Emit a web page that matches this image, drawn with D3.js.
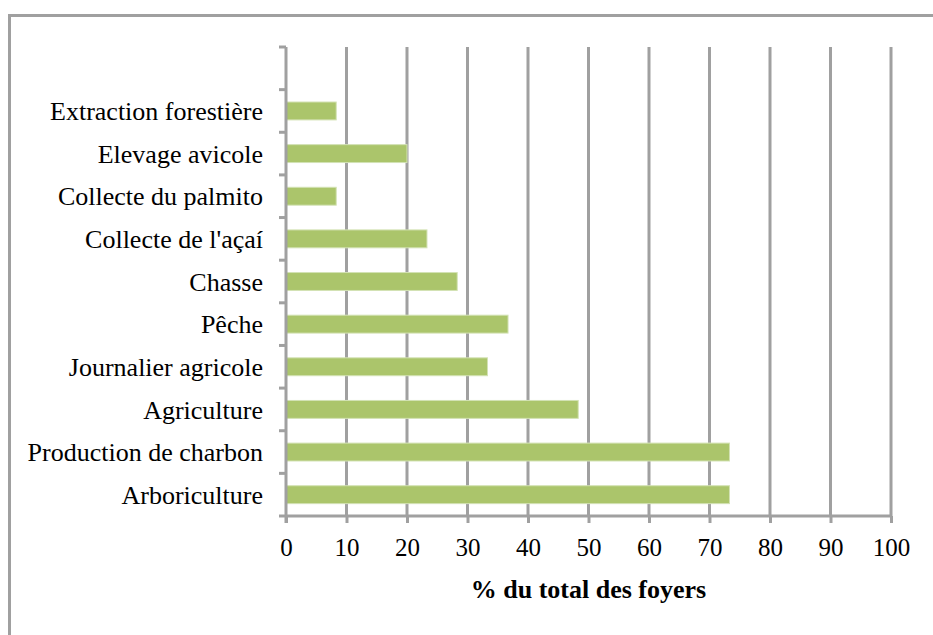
<!DOCTYPE html>
<html>
<head>
<meta charset="utf-8">
<script src="https://cdn.jsdelivr.net/npm/d3@7"></script>
<style>
  html, body { margin: 0; padding: 0; background: #fff; }
  svg { display: block; }
  svg text { font-family: "Liberation Serif", "DejaVu Serif", serif; fill: #000; }
</style>
</head>
<body>
<svg id="chart" width="933" height="635"></svg>
<script>
// categories top to bottom (first slot is empty in the original)
var categories = ['', 'Extraction forestière', 'Elevage avicole', 'Collecte du palmito',
  "Collecte de l'açaí", 'Chasse', 'Pêche', 'Journalier agricole', 'Agriculture',
  'Production de charbon', 'Arboriculture'];
var values = [null, 8.3, 20, 8.3, 23.3, 28.3, 36.7, 33.3, 48.3, 73.3, 73.3];
var xTicks = [0, 10, 20, 30, 40, 50, 60, 70, 80, 90, 100];
var xTitle = '% du total des foyers';

var gridColor = '#a0a0a0';
var barColor = '#abc56b';
var serif = '"Liberation Serif", "DejaVu Serif", serif';

var svg = d3.select('#chart');
var plotLeft = 286, plotRight = 891, plotTop = 47, plotBottom = 516;

// outer frame
svg.append('rect')
  .attr('x', 9.5).attr('y', 15.5)
  .attr('width', 960).attr('height', 660)
  .attr('fill', 'none').attr('stroke', gridColor).attr('stroke-width', 3);

var x = d3.scaleLinear().domain([0, 100]).range([plotLeft, plotRight]);
var y = d3.scaleBand().domain(categories).range([plotTop, plotBottom]).paddingInner(0.58).paddingOuter(0.29);

// vertical gridlines
svg.append('g').selectAll('line')
  .data(xTicks.slice(1))
  .enter().append('line')
  .attr('x1', function(d) { return x(d); })
  .attr('x2', function(d) { return x(d); })
  .attr('y1', plotTop).attr('y2', plotBottom)
  .attr('stroke', gridColor).attr('stroke-width', 3);

// bars
svg.append('g').selectAll('rect')
  .data(categories.filter(function(c, i) { return values[i] !== null; }))
  .enter().append('rect')
  .attr('x', x(0))
  .attr('y', function(d) { return y(d); })
  .attr('width', function(d) { return x(values[categories.indexOf(d)]) - x(0); })
  .attr('height', y.bandwidth())
  .attr('fill', barColor)
  .attr('stroke', '#d3e2b4').attr('stroke-width', 1);

// x axis
var xAxis = svg.append('g')
  .attr('transform', 'translate(0,' + plotBottom + ')')
  .call(d3.axisBottom(x).tickValues(xTicks).tickSize(7).tickPadding(15));
xAxis.attr('font-family', serif).attr('font-size', 25);
xAxis.select('.domain').attr('stroke', gridColor).attr('stroke-width', 3)
  .attr('d', 'M' + plotLeft + ',0H' + plotRight);
xAxis.selectAll('.tick line').attr('stroke', gridColor).attr('stroke-width', 3);
xAxis.selectAll('.tick text')
  .attr('fill', '#000')
  .style('font-family', serif).style('font-size', '25px');

// y axis with ticks between categories
var yTickPos = d3.range(categories.length + 1).map(function(i) {
  return plotTop + i * (plotBottom - plotTop) / categories.length;
});
var yAxis = svg.append('g');
yAxis.append('line')
  .attr('x1', plotLeft).attr('x2', plotLeft).attr('y1', plotTop).attr('y2', plotBottom + 7)
  .attr('stroke', gridColor).attr('stroke-width', 3);
yAxis.selectAll('line.tk')
  .data(yTickPos).enter().append('line').attr('class', 'tk')
  .attr('x1', plotLeft - 7).attr('x2', plotLeft)
  .attr('y1', function(d) { return d; }).attr('y2', function(d) { return d; })
  .attr('stroke', gridColor).attr('stroke-width', 3);
yAxis.selectAll('text')
  .data(categories).enter().append('text')
  .attr('x', plotLeft - 23)
  .attr('y', function(d) { return y(d) + y.bandwidth() / 2; })
  .attr('dy', '0.35em')
  .attr('text-anchor', 'end')
  .style('font-family', serif).style('font-size', '26px')
  .text(function(d) { return d; });

// axis title
svg.append('text')
  .attr('x', (plotLeft + plotRight) / 2).attr('y', 598)
  .attr('text-anchor', 'middle')
  .style('font-family', serif).style('font-size', '26px').style('font-weight', 'bold')
  .text(xTitle);
</script>
</body>
</html>
